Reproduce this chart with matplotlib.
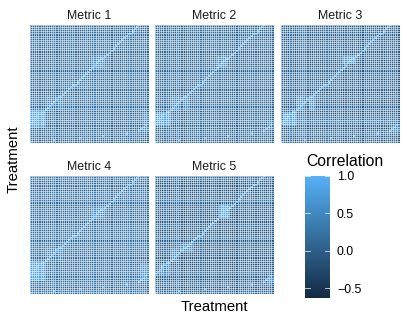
import numpy as np
import matplotlib
matplotlib.use("Agg")
import matplotlib.pyplot as plt
from matplotlib.colors import LinearSegmentedColormap, Normalize

plt.rcParams['font.family'] = ['Liberation Sans', 'DejaVu Sans']

metrics = ["Metric 1", "Metric 2", "Metric 3", "Metric 4", "Metric 5"]
low_colour, high_colour = "#132B43", "#56B1F7"
cbar_ticks = [-0.5, 0.0, 0.5, 1.0]
vmin, vmax = -0.63, 1.0

# Rough brightness estimates per panel, tuned by eye; NOT individual cell readings
profile_1 = [.20,.26,.14,.22,.18,.30,.20,.15,.26,.22,.32,.17,.20,.27,.15,.22,.30,.20,.16,.24,.22,.17,.27,.20,.15,.26,.20,.22,.17,.24]
profile_2 = [.20,.18,.12,.28,.15,.33,.18,.10,.24,.18,.28,.13,.20,.18,.11,.22,.24,.15,.14,.18,.20,.13,.30,.18,.15,.20,.18,.24,.13,.18]
profile_3 = [.18,.08,.26,.06,.35,.40,.12,.06,.20,.10,.08,.22,.03,.13,.26,.06,.17,.08,.20,.00,.10,.26,.32,.08,.17,.06,.13,.20,.03,.10]
profile_4 = [.28,.24,.22,.29,.24,.34,.26,.22,.28,.24,.22,.29,.24,.22,.28,.32,.24,.22,.26,.24,.29,.22,.26,.24,.32,.22,.24,.28,.22,.26]
profile_5 = [.18,.08,.20,.02,.18,.28,.06,.00,.15,-.02,.02,.13,-.04,.06,.18,.00,.08,.15,.02,-.02,.13,.18,.06,.25,.08,.02,.15,.06,.18,.13]
profiles = [profile_1, profile_2, profile_3, profile_4, profile_5]

# Hand-made stripe texture imitating the reference's look; NOT read from the chart
treatment_shift = [.07,-.07,.03,-.10,.10,-.03,-.10,.07,.00,-.10,.14,-.07,.03,-.10,.07,-.03,.10,-.10,.00,.07,
                   -.10,.03,.10,-.07,-.03,.07,-.10,.14,.00,-.07,.03,-.10,.10,-.03,.07,-.10,.00,.10,-.07,.03,
                   -.10,.07,.00,-.07,.10,-.10,.03,.07,-.07,.00,.14,-.10,.03,-.03,.07,-.10,.10,.00,-.07,.03]

# Bright blocks located from zoomed crops, in 60ths of the panel: x0, x1, y0, y1 (y from bottom), value
blocks_1 = [(1,7,8,16,.80),(8,12,17,24,.42),(13,17,17,24,.42),(32,37,38,44,.52),(57,60,6,15,.52)]
blocks_2 = [(1,7,9,15,.78),(8,13,17,24,.50),(14,17,17,24,.50),(32,36,39,44,.54),(57,60,7,12,.42)]
blocks_3 = [(2,7,9,15,.78),(8,12,17,24,.58),(14,17,17,24,.64),(32,37,40,44,.72),(56,60,6,10,.52)]
blocks_4 = [(0,7,7,16,.80),(8,12,17,24,.42),(13,16,17,24,.42),(32,37,39,44,.54),(56,60,7,15,.58)]
blocks_5 = [(3,7,10,15,.47),(8,12,17,22,.47),(13,19,22,26,.47),(33,37,39,45,.78),(57,60,6,10,.52)]
blocks = [blocks_1, blocks_2, blocks_3, blocks_4, blocks_5]

# Grid size chosen by eye, not counted
n_cells = 56
# Main diagonal, in 60ths of the panel: row of the bright cell at anchor columns
diag_cols = [0, 7, 15, 22, 54, 60]
diag_rows = [10, 16, 23, 29, 58.5, 64]
# Second, shallow line of single bright cells near the bottom (col, row), in 60ths
sparse_dots = [(0, 0), (12, 2), (25, 3), (37, 4), (49, 5), (55, 6), (56, 7), (57, 8), (58, 9)]
diagonal_value = 1.0
dot_value = 0.95

def build(profile, block_list):
    k = n_cells / 60
    m = np.zeros((n_cells, n_cells))
    for i in range(n_cells):
        for j in range(n_cells):
            m[i, j] = (profile[int(i * 30 / n_cells)] + profile[int(j * 30 / n_cells)]) / 2 \
                      + treatment_shift[int(i / k)] + treatment_shift[int(j / k)]
    for x0, x1, y0, y1, v in block_list:
        m[int(y0 * k):int(round(y1 * k)), int(x0 * k):int(round(x1 * k))] = v
    for j in range(n_cells):
        r = int(round(k * np.interp(j / k, diag_cols, diag_rows)))
        if r < n_cells:
            m[r, j] = diagonal_value
    for x, y in sparse_dots:
        m[int(y * k), int(x * k)] = dot_value
    return m

W, H = 407, 323
fig = plt.figure(figsize=(W / 100, H / 100), dpi=100)
cmap = LinearSegmentedColormap.from_list("g", [low_colour, high_colour])
norm = Normalize(vmin, vmax)

lefts = [30, 155, 281, 30, 155]
tops = [25, 25, 25, 176, 176]
size = 118.5
for name, prof, bl, l, t in zip(metrics, profiles, blocks, lefts, tops):
    ax = fig.add_axes([l / W, 1 - (t + size) / H, size / W, size / H])
    ax.imshow(build(prof, bl), cmap=cmap, norm=norm, origin="lower", aspect="auto",
              interpolation="nearest", extent=[0, n_cells, 0, n_cells])
    edges = np.arange(n_cells + 1)
    ax.vlines(edges, 0, n_cells, color="white", lw=0.38)
    ax.hlines(edges, 0, n_cells, color="white", lw=0.38)
    ax.set_xlim(0, n_cells); ax.set_ylim(0, n_cells)
    ax.set_xticks([]); ax.set_yticks([])
    for s in ax.spines.values():
        s.set_visible(False)
    ax.set_title(name, fontsize=8.9, pad=4.5, color="#1a1a1a")

fig.text(214 / W, 1 - 307 / H, "Treatment", fontsize=10.7, ha="center", va="center")
fig.text(14 / W, 1 - 159 / H, "Treatment", fontsize=10.7, rotation=90, ha="center", va="center")

cax = fig.add_axes([305 / W, 1 - 298 / H, 25 / W, 122 / H])
grad = np.linspace(vmin, vmax, 256).reshape(-1, 1)
cax.imshow(grad, aspect="auto", origin="lower", cmap=cmap, norm=norm, extent=[0, 1, vmin, vmax])
cax.set_xticks([])
cax.yaxis.tick_right()
cax.set_yticks(cbar_ticks)
cax.set_yticklabels(["\u22120.5", "0.0", "0.5", "1.0"], fontsize=8.9)
cax.tick_params(axis='y', length=0, pad=5)
for s in cax.spines.values():
    s.set_visible(False)
for v in cbar_ticks:
    cax.plot([0, .2], [v, v], color="white", lw=0.5)
    cax.plot([.8, 1], [v, v], color="white", lw=0.5)
cax.set_xlim(0, 1); cax.set_ylim(vmin, vmax)
fig.text(306 / W, 1 - 162 / H, "Correlation", fontsize=11.3, ha="left", va="center")

fig.savefig("out.png", dpi=100)
